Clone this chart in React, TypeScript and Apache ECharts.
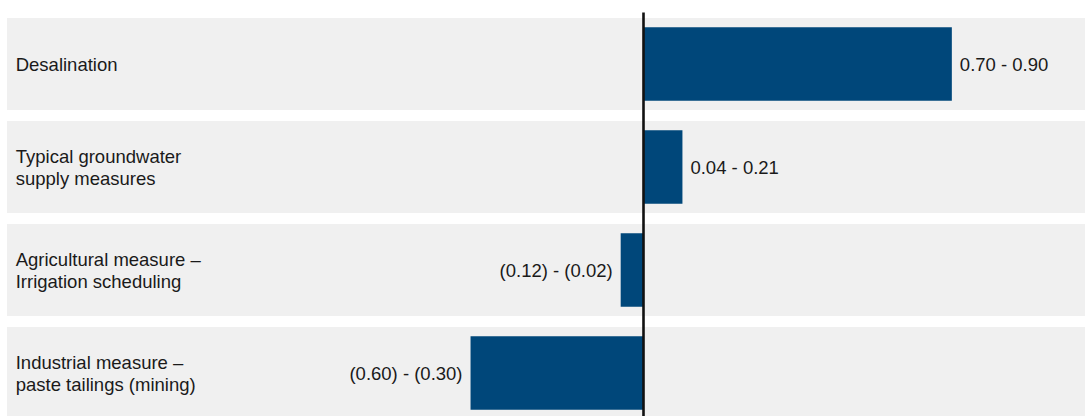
import React, { useEffect, useRef } from "react";
import * as echarts from "echarts";

const categories = [
  "Desalination",
  "Typical groundwater\nsupply measures",
  "Agricultural measure –\nIrrigation scheduling",
  "Industrial measure –\npaste tailings (mining)",
];
const barValues = [0.8, 0.102, -0.058, -0.447];
const rangeLabels = ["0.70 - 0.90", "0.04 - 0.21", "(0.12) - (0.02)", "(0.60) - (0.30)"];
const bandValues = [0, 0, 0, 0];

export default function App() {
  const ref = useRef<HTMLDivElement>(null);
  useEffect(() => {
    if (!ref.current) return;
    const chart = echarts.init(ref.current, null, { renderer: "svg" });
    const font = "'Liberation Sans', Arial, Helvetica, sans-serif";
    chart.setOption({
      animation: false,
      backgroundColor: "#ffffff",
      grid: { left: 7, right: 0, top: 12.5, height: 412, containLabel: false },
      xAxis: {
        type: "value",
        min: -1.648,
        max: 1.145,
        show: false,
        splitLine: { show: false },
      },
      yAxis: [
        {
          type: "category",
          data: categories,
          inverse: true,
          axisLine: { show: false },
          axisTick: { show: false },
          splitLine: { show: false },
          axisLabel: {
            inside: true,
            margin: 8.7,
            align: "left",
            fontSize: 18.5,
            lineHeight: 22,
            fontFamily: font,
            color: "#1a1a1a",
          },
          z: 10,
        },
        {
          type: "category",
          data: categories,
          inverse: true,
          show: false,
        },
      ],
      series: [
        {
          type: "bar",
          yAxisIndex: 1,
          data: bandValues,
          barWidth: 92,
          showBackground: true,
          backgroundStyle: { color: "#f0f0f0" },
          itemStyle: { color: "transparent" },
          silent: true,
          z: 1,
        },
        {
          type: "bar",
          yAxisIndex: 0,
          barWidth: 73.5,
          z: 3,
          data: barValues.map((v) => ({
            value: v,
            label: { position: v < 0 ? "left" : "right" },
          })),
          itemStyle: { color: "#00477A" },
          label: {
            show: true,
            distance: 8,
            fontSize: 18.5,
            fontFamily: font,
            color: "#1a1a1a",
            formatter: (p: any) => rangeLabels[p.dataIndex],
          },
          markLine: {
            silent: true,
            symbol: ["none", "none"],
            label: { show: false },
            lineStyle: { color: "#111111", width: 2.6, type: "solid" },
            data: [{ xAxis: 0 }],
            z: 5,
          },
        },
      ],
    });
    return () => chart.dispose();
  }, []);
  return (
    <div
      ref={ref}
      style={{ position: "fixed", left: 0, top: 0, width: 1085, height: 440 }}
    />
  );
}
